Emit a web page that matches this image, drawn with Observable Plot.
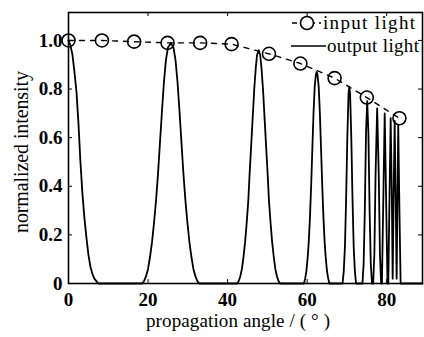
<!DOCTYPE html>
<html>
<head>
<meta charset="utf-8">
<script src="https://cdn.jsdelivr.net/npm/d3@7"></script>
<script src="https://cdn.jsdelivr.net/npm/@observablehq/plot@0.6"></script>
<style>
  body { margin: 0; background: white; }
  svg text { font-family: "Liberation Serif", serif; }
</style>
</head>
<body>
<div id="chart"></div>
<script>
// ---- data ----
const xTicks = [0, 20, 40, 60, 80];
const yTicks = [0, 0.2, 0.4, 0.6, 0.8, 1.0];
const yTickLabels = ["0", "0.2", "0.4", "0.6", "0.8", "1.0"];

// input light (circles + dashed line)
const inputAngle = [0, 8.4, 16.5, 24.9, 33.1, 41.0, 50.4, 58.3, 66.9, 75.0, 83.2];
const inputIntensity = [1.0, 1.0, 0.995, 0.99, 0.99, 0.985, 0.945, 0.905, 0.845, 0.765, 0.68];

// output light (solid line)
const outputAngle = [
  0, 0.5, 1, 1.5, 2, 2.5, 3, 3.5, 4, 4.5, 5, 5.5, 6, 6.5, 7, 7.5,
  18.5, 19, 19.5, 20, 20.5, 21, 21.5, 22, 22.5, 23, 23.5, 24, 24.5, 25, 25.7,
  26.4, 26.9, 27.4, 27.9, 28.4, 28.9, 29.4, 29.9, 30.4, 30.9, 31.4, 31.9, 32.4, 32.9,
  42.4, 42.8, 43.2, 43.6, 44, 44.4, 44.8, 45.2, 45.5, 45.9, 46.3, 46.7, 47.1, 47.4, 47.8,
  48.2, 48.5, 48.9, 49.3, 49.7, 50.1, 50.4, 50.8, 51.2, 51.6, 52, 52.4, 52.8, 53.2,
  59.2, 59.5, 59.8, 60.1, 60.4, 60.7, 61, 61.3, 61.6, 61.9, 62.2, 62.4,
  62.6, 62.9, 63.2, 63.5, 63.8, 64.1, 64.4, 64.7, 65, 65.3, 65.6,
  68.9, 69.2, 69.5, 69.8, 70.1, 70.4, 70.6, 70.8, 71.1, 71.4, 71.7, 72, 72.3,
  73.9, 74.2, 74.5, 74.8, 75.1, 75.4, 75.7, 76, 76.3,
  76.6, 76.9, 77.2, 77.6, 78, 78.3, 78.6,
  78.8, 79.1, 79.5, 79.9, 80.2,
  80.4, 80.7, 81.0, 81.3, 81.5,
  81.7, 82.0, 82.3, 82.5,
  82.7, 82.9, 83.2, 83.5,
  89
];
const outputIntensity = [
  1.0, 0.98, 0.94, 0.87, 0.79, 0.66, 0.5, 0.37, 0.27, 0.19, 0.12, 0.07, 0.04, 0.02, 0.01, 0,
  0, 0.01, 0.03, 0.06, 0.11, 0.17, 0.25, 0.34, 0.45, 0.58, 0.71, 0.83, 0.92, 0.97, 0.99,
  0.97, 0.92, 0.83, 0.71, 0.58, 0.45, 0.34, 0.25, 0.17, 0.11, 0.06, 0.03, 0.01, 0,
  0, 0.01, 0.03, 0.06, 0.11, 0.17, 0.25, 0.34, 0.44, 0.56, 0.68, 0.8, 0.89, 0.94, 0.96,
  0.94, 0.89, 0.8, 0.68, 0.56, 0.44, 0.34, 0.25, 0.17, 0.11, 0.06, 0.03, 0.01, 0,
  0, 0.02, 0.05, 0.1, 0.17, 0.27, 0.4, 0.55, 0.7, 0.81, 0.86, 0.87,
  0.86, 0.81, 0.7, 0.55, 0.4, 0.27, 0.17, 0.1, 0.05, 0.02, 0,
  0, 0.05, 0.15, 0.35, 0.6, 0.78, 0.81, 0.78, 0.6, 0.35, 0.15, 0.05, 0,
  0, 0.08, 0.3, 0.62, 0.75, 0.62, 0.3, 0.08, 0,
  0, 0.12, 0.45, 0.72, 0.45, 0.12, 0,
  0, 0.3, 0.7, 0.3, 0,
  0, 0.35, 0.68, 0.35, 0.02,
  0.3, 0.67, 0.3, 0.02,
  0.35, 0.65, 0.3, 0,
  0
];

const seriesNames = ["input light", "output light"];
const xLabel = "propagation angle / ( \u00b0 )";
const yLabel = "normalized intensity";

// ---- tables ----
const inputData = inputAngle.map((a, i) => ({angle: a, value: inputIntensity[i]}));
const outputData = outputAngle.map((a, i) => ({angle: a, value: outputIntensity[i]}));

const W = 424, H = 337;
const mL = 68, mR = 2, mT = 12, mB = 54;
const innerW = W - mL - mR, innerH = H - mT - mB;
const tickLen = 4;

const chart = Plot.plot({
  width: W,
  height: H,
  marginLeft: mL,
  marginRight: mR,
  marginTop: mT,
  marginBottom: mB,
  style: {fontFamily: "Liberation Serif", fontSize: "19px", color: "black", background: "white"},
  x: {domain: [0, 89], ticks: xTicks, tickSize: 0, tickPadding: 9, label: null, tickFormat: d => String(d)},
  y: {domain: [0, 1.115], ticks: yTicks, tickSize: 0, tickPadding: 6, label: null,
      tickFormat: d => yTickLabels[yTicks.indexOf(d)]},
  marks: [
    Plot.line(outputData, {x: "angle", y: "value", stroke: "black", strokeWidth: 1.8, curve: "linear"}),
    Plot.line(inputData, {x: "angle", y: "value", stroke: "black", strokeWidth: 1.4, strokeDasharray: "5,6"}),
    Plot.dot(inputData, {x: "angle", y: "value", r: 6.5, stroke: "black", strokeWidth: 1.6, fill: "none"}),
    Plot.tickX(xTicks, {x: d => d, insetTop: innerH - tickLen, stroke: "black"}),
    Plot.tickX(xTicks, {x: d => d, insetBottom: innerH - tickLen, stroke: "black"}),
    Plot.tickY(yTicks, {y: d => d, insetRight: innerW - tickLen, stroke: "black"}),
    Plot.tickY(yTicks, {y: d => d, insetLeft: innerW - tickLen, stroke: "black"}),
    Plot.frame({stroke: "black", strokeWidth: 1.6})
  ]
});

const svg = d3.select(chart);
svg.selectAll("g[aria-label='x-axis tick label'] text, g[aria-label='y-axis tick label'] text")
  .attr("font-weight", "bold");

// axis titles
svg.append("text")
  .attr("x", 238).attr("y", 327)
  .attr("text-anchor", "middle")
  .attr("font-size", 19)
  .attr("textLength", 184)
  .attr("lengthAdjust", "spacing")
  .attr("fill", "black")
  .text(xLabel);
svg.append("text")
  .attr("transform", "translate(21,152) rotate(-90)")
  .attr("text-anchor", "middle")
  .attr("dominant-baseline", "central")
  .attr("font-size", 20)
  .attr("textLength", 162)
  .attr("lengthAdjust", "spacing")
  .attr("fill", "black")
  .text(yLabel);

// legend
const lg = svg.append("g").attr("text-anchor", "start");
lg.append("line").attr("x1", 292).attr("x2", 321).attr("y1", 23).attr("y2", 23)
  .attr("stroke", "black").attr("stroke-width", 1.4).attr("stroke-dasharray", "5,4");
lg.append("circle").attr("cx", 307).attr("cy", 23).attr("r", 6.5)
  .attr("fill", "white").attr("stroke", "black").attr("stroke-width", 1.6);
lg.append("text").attr("x", 323).attr("y", 29).attr("font-size", 19)
  .attr("textLength", 92).attr("lengthAdjust", "spacing")
  .attr("fill", "black").text(seriesNames[0]);
lg.append("line").attr("x1", 291).attr("x2", 326).attr("y1", 46).attr("y2", 46)
  .attr("stroke", "black").attr("stroke-width", 1.6);
lg.append("text").attr("x", 327).attr("y", 52).attr("font-size", 19)
  .attr("textLength", 92).attr("lengthAdjust", "spacing")
  .attr("fill", "black").text(seriesNames[1]);

document.getElementById("chart").append(chart);
</script>
</body>
</html>
